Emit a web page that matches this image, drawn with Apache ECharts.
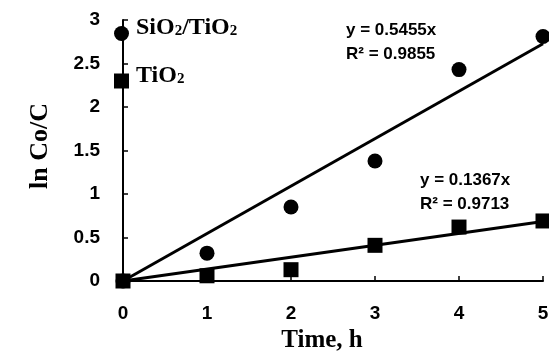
<!DOCTYPE html>
<html><head><meta charset="utf-8">
<script src="https://cdn.jsdelivr.net/npm/echarts@6/dist/echarts.min.js"></script>
<style>html,body{margin:0;padding:0;background:#fff}#c{width:549px;height:353px}</style>
</head><body><div id="c"></div>
<script>
const times = [0, 1, 2, 3, 4, 5];
const sio2tio2 = [0, 0.32, 0.85, 1.38, 2.43, 2.81];
const tio2 = [0, 0.06, 0.13, 0.41, 0.62, 0.69];
const slopeSiO2 = 0.5455;
const slopeTiO2 = 0.1367;
const seriesNames = ['SiO\u2082/TiO\u2082', 'TiO\u2082'];
const eqSiO2 = ['y = 0.5455x', 'R\u00b2 = 0.9855'];
const eqTiO2 = ['y = 0.1367x', 'R\u00b2 = 0.9713'];

const chart = echarts.init(document.getElementById('c'), null, {renderer: 'canvas'});
const pair = (xs, ys) => xs.map((x, i) => [x, ys[i]]);
const tFirst = times[0], tLast = times[times.length - 1];
const tickFont = {fontFamily: 'Liberation Sans', fontWeight: 'bold', fontSize: 19, color: '#000'};
const annFont = {fontFamily: 'Liberation Sans', fontWeight: 'bold', fontSize: 17, fill: '#000'};
const serifFont = {fontFamily: 'Liberation Serif', fontWeight: 'bold', fontSize: 25, color: '#000'};
// legend label: subscript digits rendered as smaller rich tokens
const legendRich = name => name.split('\u2082').map(p => p ? '{n|' + p + '}' : '').join('{s|2}') + '\n{e| }';
chart.setOption({
  animation: false,
  color: ['#000', '#000'],
  grid: {left: 123, right: 6, top: 20, bottom: 72, containLabel: false, outerBoundsMode: 'none'},
  legend: {
    orient: 'vertical', left: 109, top: 11, itemGap: 16, itemWidth: 15, itemHeight: 15,
    data: [{name: seriesNames[0], icon: 'circle'}, {name: seriesNames[1], icon: 'rect'}],
    formatter: legendRich,
    textStyle: {
      padding: [0, 0, 0, 2],
      rich: {
        n: {fontFamily: 'Liberation Serif', fontWeight: 'bold', fontSize: 24, color: '#000', lineHeight: 18},
        s: {fontFamily: 'Liberation Serif', fontWeight: 'bold', fontSize: 15, color: '#000', lineHeight: 11, padding: [7, 0, 0, 0]},
        e: {fontSize: 10, lineHeight: 11}
      }
    }
  },
  xAxis: {
    type: 'value', min: 0, max: 5, interval: 1,
    name: 'Time, h', nameLocation: 'middle', nameGap: 45,
    nameTextStyle: Object.assign({padding: [0, 22, 0, 0]}, serifFont),
    axisLine: {lineStyle: {color: '#000', width: 2}},
    axisTick: {inside: true, length: 5, lineStyle: {color: '#000', width: 1.5}},
    axisLabel: Object.assign({margin: 23}, tickFont),
    splitLine: {show: false}
  },
  yAxis: {
    type: 'value', min: 0, max: 3, interval: 0.5,
    name: 'ln Co/C', nameLocation: 'middle', nameGap: 70, nameRotate: 90,
    nameTextStyle: Object.assign({padding: [0, 0, 0, 9]}, serifFont, {fontSize: 26}),
    axisLine: {show: true, lineStyle: {color: '#000', width: 2}},
    axisTick: {show: true, inside: true, length: 5, lineStyle: {color: '#000', width: 1.5}},
    axisLabel: Object.assign({margin: 23}, tickFont),
    splitLine: {show: false}
  },
  series: [
    {name: seriesNames[0], type: 'line', data: [[tFirst, slopeSiO2 * tFirst], [tLast, slopeSiO2 * tLast]],
     showSymbol: false, itemStyle: {color: '#000'}, lineStyle: {color: '#000', width: 3}, silent: true, z: 1},
    {name: seriesNames[1], type: 'line', data: [[tFirst, slopeTiO2 * tFirst], [tLast, slopeTiO2 * tLast]],
     showSymbol: false, itemStyle: {color: '#000'}, lineStyle: {color: '#000', width: 3}, silent: true, z: 1},
    {name: seriesNames[0], type: 'scatter', symbol: 'circle', symbolSize: 15, data: pair(times, sio2tio2),
     itemStyle: {color: '#000', opacity: 1}, z: 3},
    {name: seriesNames[1], type: 'scatter', symbol: 'rect', symbolSize: 15, data: pair(times, tio2),
     itemStyle: {color: '#000', opacity: 1}, z: 3}
  ],
  graphic: [
    {type: 'text', left: 346, top: 22, style: Object.assign({text: eqSiO2[0]}, annFont)},
    {type: 'text', left: 346, top: 45.5, style: Object.assign({text: eqSiO2[1]}, annFont)},
    {type: 'text', left: 420, top: 172, style: Object.assign({text: eqTiO2[0]}, annFont)},
    {type: 'text', left: 420, top: 195.5, style: Object.assign({text: eqTiO2[1]}, annFont)}
  ]
});
</script></body></html>
